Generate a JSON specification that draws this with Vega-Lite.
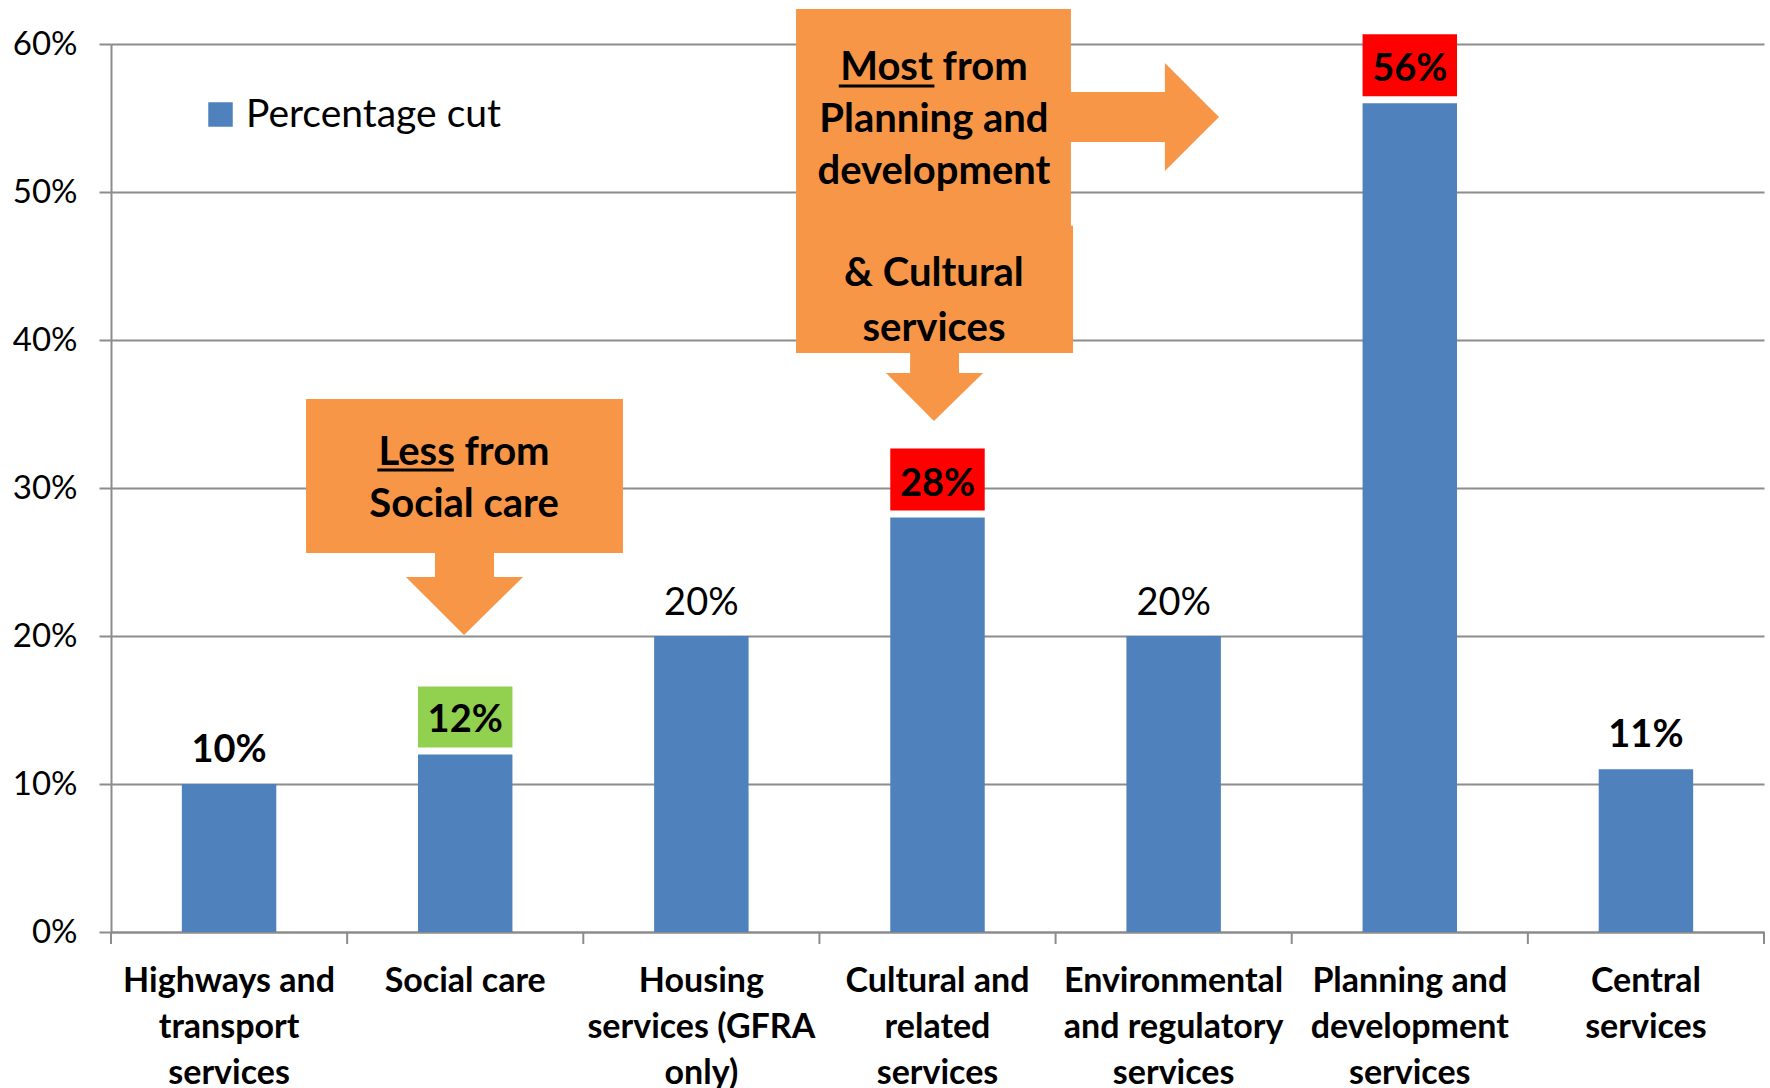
{
  "$schema": "https://vega.github.io/schema/vega-lite/v6.json",
  "width": 1653,
  "height": 888,
  "autosize": "none",
  "padding": {"left": 111, "top": 44, "right": 6, "bottom": 156},
  "background": "white",
  "config": {"font": "Lato", "view": {"stroke": null}},
  "datasets": {
    "cuts": [
      {"service": "Highways and transport services", "cut": 0.10, "measure": "Percentage cut"},
      {"service": "Social care", "cut": 0.12, "measure": "Percentage cut"},
      {"service": "Housing services (GFRA only)", "cut": 0.20, "measure": "Percentage cut"},
      {"service": "Cultural and related services", "cut": 0.28, "measure": "Percentage cut"},
      {"service": "Environmental and regulatory services", "cut": 0.20, "measure": "Percentage cut"},
      {"service": "Planning and development services", "cut": 0.56, "measure": "Percentage cut"},
      {"service": "Central services", "cut": 0.11, "measure": "Percentage cut"}
    ],
    "categoryBounds": [
      {"x": 0, "y": 0, "y2": -0.0081},
      {"x": 1, "y": 0, "y2": -0.0081},
      {"x": 2, "y": 0, "y2": -0.0081},
      {"x": 3, "y": 0, "y2": -0.0081},
      {"x": 4, "y": 0, "y2": -0.0081},
      {"x": 5, "y": 0, "y2": -0.0081},
      {"x": 6, "y": 0, "y2": -0.0081},
      {"x": 7, "y": 0, "y2": -0.0081}
    ],
    "calloutBoxes": [
      {"part": "less box", "x": 0.826, "x2": 2.168, "y": 0.3601, "y2": 0.2561},
      {"part": "less stem", "x": 1.372, "x2": 1.622, "y": 0.2565, "y2": 0.2395},
      {"part": "most box", "x": 2.901, "x2": 4.065, "y": 0.6236, "y2": 0.4770},
      {"part": "cultural box", "x": 2.901, "x2": 4.074, "y": 0.4772, "y2": 0.3912},
      {"part": "most stem", "x": 4.060, "x2": 4.467, "y": 0.5676, "y2": 0.5338},
      {"part": "cultural stem", "x": 3.384, "x2": 3.591, "y": 0.3916, "y2": 0.3773}
    ],
    "calloutHeads": [
      {"id": "less", "x": 1.249, "y": 0.2399, "top": 0.2399},
      {"id": "less", "x": 1.495, "y": 0.2007, "top": 0.2399},
      {"id": "less", "x": 1.745, "y": 0.2399, "top": 0.2399},
      {"id": "cultural", "x": 3.282, "y": 0.3777, "top": 0.3777},
      {"id": "cultural", "x": 3.485, "y": 0.3453, "top": 0.3777},
      {"id": "cultural", "x": 3.693, "y": 0.3777, "top": 0.3777}
    ],
    "calloutRightHead": [
      {"id": "most", "y": 0.5872, "x": 4.463, "base": 4.463},
      {"id": "most", "y": 0.5507, "x": 4.692, "base": 4.463},
      {"id": "most", "y": 0.5142, "x": 4.463, "base": 4.463}
    ],
    "calloutText": [
      {"text": "Less from", "x": 1.495, "y": 0.3155},
      {"text": "Social care", "x": 1.495, "y": 0.2804},
      {"text": "Most from", "x": 3.485, "y": 0.5757},
      {"text": "Planning and", "x": 3.485, "y": 0.5405},
      {"text": "development", "x": 3.485, "y": 0.5054},
      {"text": "& Cultural", "x": 3.485, "y": 0.4365},
      {"text": "services", "x": 3.485, "y": 0.3993}
    ],
    "calloutUnderline": [
      {"word": "Less", "x": 1.128, "x2": 1.452, "y": 0.3122},
      {"word": "Most", "x": 3.082, "x2": 3.487, "y": 0.5716}
    ]
  },
  "layer": [
    {
      "data": {"name": "cuts"},
      "encoding": {
        "x": {
          "field": "service",
          "type": "nominal",
          "sort": null,
          "scale": {"paddingInner": 0.6, "paddingOuter": 0.3},
          "axis": {
            "title": null,
            "labelAngle": 0,
            "labelFontSize": 34,
            "labelFontWeight": "bold",
            "labelColor": "black",
            "labelLineHeight": 46,
            "labelPadding": 32,
            "labelLimit": 400,
            "labelBaseline": "top",
            "ticks": false,
            "domainColor": "#8C8C8C",
            "domainWidth": 2,
            "grid": false,
            "labelExpr": "datum.label == 'Highways and transport services' ? ['Highways and','transport','services'] : datum.label == 'Housing services (GFRA only)' ? ['Housing','services (GFRA','only)'] : datum.label == 'Cultural and related services' ? ['Cultural and','related','services'] : datum.label == 'Environmental and regulatory services' ? ['Environmental','and regulatory','services'] : datum.label == 'Planning and development services' ? ['Planning and','development','services'] : datum.label == 'Central services' ? ['Central','services'] : datum.label"
          }
        },
        "y": {
          "field": "cut",
          "type": "quantitative",
          "scale": {"domain": [0, 0.6], "nice": false},
          "axis": {
            "title": null,
            "values": [0, 0.1, 0.2, 0.3, 0.4, 0.5, 0.6],
            "format": ".0%",
            "labelFontSize": 33,
            "labelColor": "black",
            "labelPadding": 22,
            "tickSize": 12,
            "tickColor": "#8C8C8C",
            "tickWidth": 2,
            "domainColor": "#8C8C8C",
            "domainWidth": 2,
            "grid": true,
            "gridColor": "#8C8C8C",
            "gridWidth": 2
          }
        }
      },
      "layer": [
        {
          "mark": {"type": "bar"},
          "encoding": {
            "color": {
              "field": "measure",
              "type": "nominal",
              "scale": {"range": ["#4F81BD"]},
              "legend": {
                "title": null,
                "orient": "none",
                "legendX": 90,
                "legendY": 51,
                "padding": 0,
                "labelFontSize": 39,
                "labelColor": "black",
                "labelOffset": 6,
                "labelLimit": 600,
                "symbolType": "square",
                "symbolSize": 600,
                "symbolStrokeWidth": 0
              }
            }
          }
        },
        {
          "transform": [{"filter": {"field": "service", "oneOf": ["Cultural and related services", "Planning and development services"]}}],
          "mark": {"type": "rect", "fill": "#FF0000", "yOffset": -7, "y2Offset": -69},
          "encoding": {"y2": {"field": "cut"}}
        },
        {
          "transform": [{"filter": {"field": "service", "equal": "Social care"}}],
          "mark": {"type": "rect", "fill": "#92D050", "yOffset": -7, "y2Offset": -68},
          "encoding": {"y2": {"field": "cut"}}
        },
        {
          "transform": [{"filter": {"not": {"field": "service", "oneOf": ["Housing services (GFRA only)", "Environmental and regulatory services"]}}}],
          "mark": {"type": "text", "fontSize": 38, "fontWeight": "bold", "baseline": "alphabetic", "dy": -22, "color": "black"},
          "encoding": {"text": {"field": "cut", "type": "quantitative", "format": ".0%"}}
        },
        {
          "transform": [{"filter": {"field": "service", "oneOf": ["Housing services (GFRA only)", "Environmental and regulatory services"]}}],
          "mark": {"type": "text", "fontSize": 38, "baseline": "alphabetic", "dy": -21, "color": "black"},
          "encoding": {"text": {"field": "cut", "type": "quantitative", "format": ".0%"}}
        }
      ]
    },
    {
      "layer": [
        {
          "data": {"name": "categoryBounds"},
          "mark": {"type": "rule", "color": "#8C8C8C", "strokeWidth": 2},
          "encoding": {
            "x": {"field": "x", "type": "quantitative", "scale": {"domain": [0, 7], "nice": false, "zero": false}, "axis": null},
            "y": {"field": "y", "type": "quantitative", "scale": {"domain": [0, 0.6], "nice": false}, "axis": null},
            "y2": {"field": "y2"}
          }
        },
        {
          "data": {"name": "calloutBoxes"},
          "mark": {"type": "rect", "fill": "#F79646"},
          "encoding": {
            "x": {"field": "x", "type": "quantitative", "scale": {"domain": [0, 7], "nice": false, "zero": false}, "axis": null},
            "x2": {"field": "x2"},
            "y": {"field": "y", "type": "quantitative", "scale": {"domain": [0, 0.6], "nice": false}, "axis": null},
            "y2": {"field": "y2"}
          }
        },
        {
          "data": {"name": "calloutHeads"},
          "mark": {"type": "area", "fill": "#F79646", "opacity": 1},
          "encoding": {
            "x": {"field": "x", "type": "quantitative", "scale": {"domain": [0, 7], "nice": false, "zero": false}, "axis": null},
            "y": {"field": "y", "type": "quantitative", "stack": null, "scale": {"domain": [0, 0.6], "nice": false}, "axis": null},
            "y2": {"field": "top"},
            "detail": {"field": "id"}
          }
        },
        {
          "data": {"name": "calloutRightHead"},
          "mark": {"type": "area", "orient": "horizontal", "fill": "#F79646", "opacity": 1},
          "encoding": {
            "x": {"field": "x", "type": "quantitative", "stack": null, "scale": {"domain": [0, 7], "nice": false, "zero": false}, "axis": null},
            "x2": {"field": "base"},
            "y": {"field": "y", "type": "quantitative", "scale": {"domain": [0, 0.6], "nice": false}, "axis": null},
            "detail": {"field": "id"}
          }
        },
        {
          "data": {"name": "calloutText"},
          "mark": {"type": "text", "fontSize": 40, "fontWeight": "bold", "align": "center", "baseline": "alphabetic", "color": "black"},
          "encoding": {
            "x": {"field": "x", "type": "quantitative", "scale": {"domain": [0, 7], "nice": false, "zero": false}, "axis": null},
            "y": {"field": "y", "type": "quantitative", "scale": {"domain": [0, 0.6], "nice": false}, "axis": null},
            "text": {"field": "text"}
          }
        },
        {
          "data": {"name": "calloutUnderline"},
          "mark": {"type": "rule", "strokeWidth": 3, "color": "black"},
          "encoding": {
            "x": {"field": "x", "type": "quantitative", "scale": {"domain": [0, 7], "nice": false, "zero": false}, "axis": null},
            "x2": {"field": "x2"},
            "y": {"field": "y", "type": "quantitative", "scale": {"domain": [0, 0.6], "nice": false}, "axis": null}
          }
        }
      ]
    }
  ],
  "resolve": {"scale": {"x": "independent"}, "axis": {"x": "independent", "y": "independent"}}
}
